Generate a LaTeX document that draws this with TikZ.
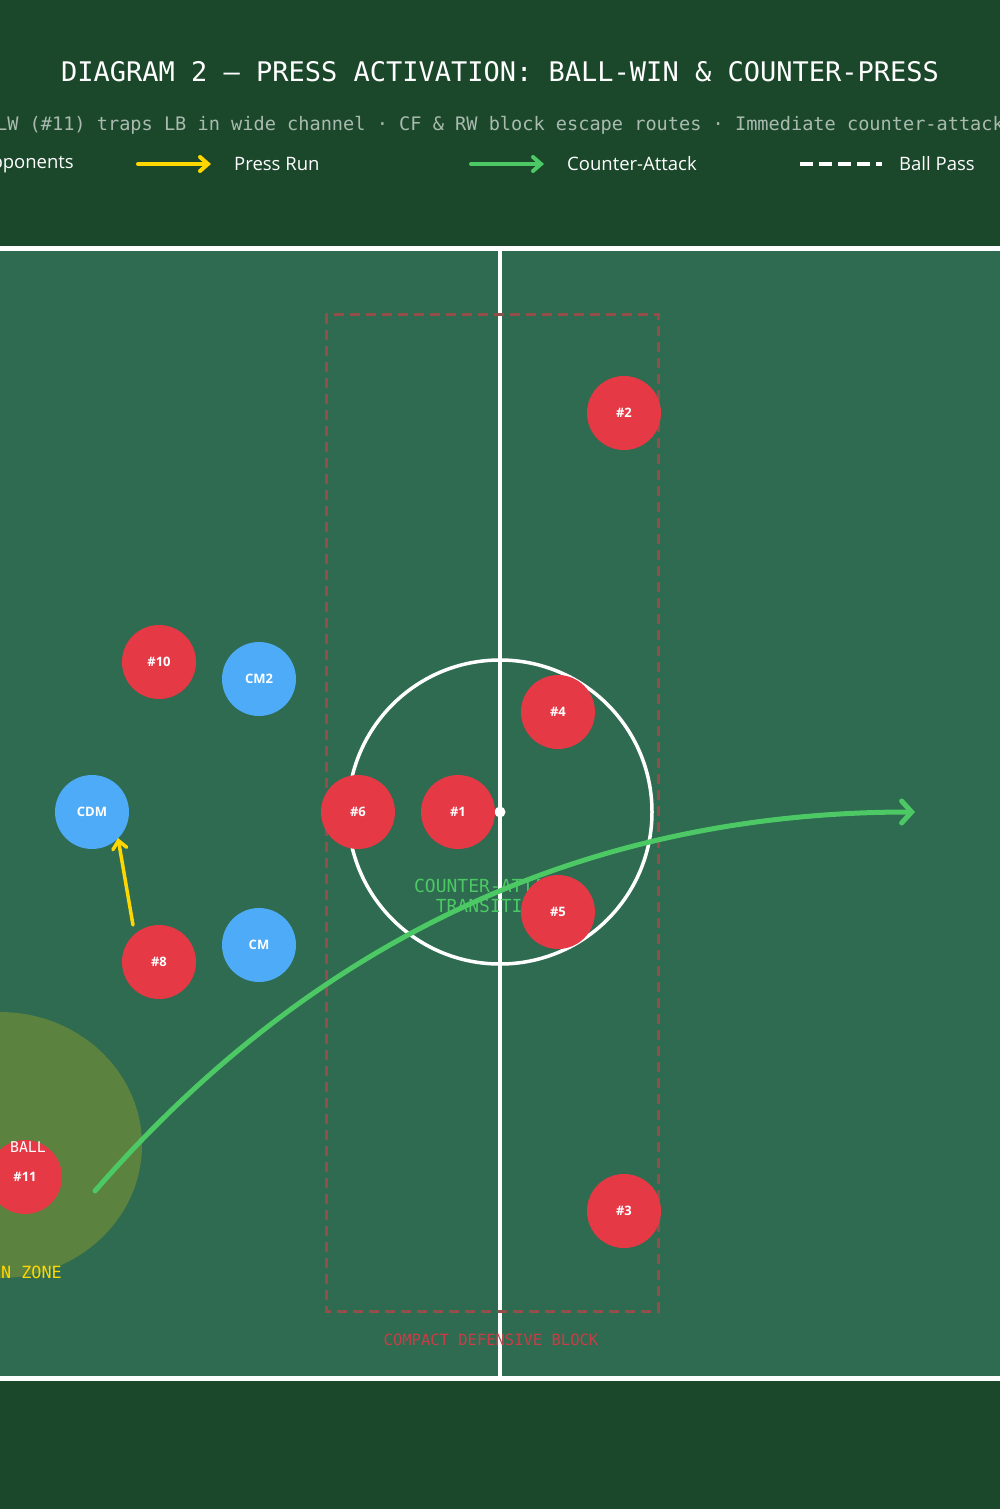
\documentclass[tikz,border=0pt]{standalone}
\usepackage{fontspec}
\setmainfont{Open Sans}
\newfontfamily\mono{DejaVu Sans Mono}
\usetikzlibrary{arrows.meta}
\definecolor{bgdark}{HTML}{1B472B}
\definecolor{field}{HTML}{2E6B50}
\definecolor{red}{HTML}{E63946}
\definecolor{blue}{HTML}{4DABF7}
\definecolor{ygold}{HTML}{FFD700}
\definecolor{cgreen}{HTML}{4CC964}
\definecolor{blockline}{HTML}{914F4A}
\definecolor{blocktext}{HTML}{C93D46}
\definecolor{zone}{HTML}{5B823E}
\definecolor{subgray}{HTML}{A9BBAF}
\tikzset{
  us/.style={circle, fill=red, minimum size=74pt, inner sep=0pt, text=white, font=\fontsize{13}{15}\selectfont\bfseries},
  them/.style={circle, fill=blue, minimum size=74pt, inner sep=0pt, text=white, font=\fontsize{13}{15}\selectfont\bfseries},
  pitchline/.style={draw=white, line width=3.5pt},
  pressrun/.style={draw=ygold, line width=3.5pt, line cap=round, -{Straight Barb[length=8pt,width=14pt,line cap=round]}},
  counter/.style={draw=cgreen, line width=5pt, line cap=round, -{Straight Barb[length=10pt,width=22pt,line cap=round]}},
  legtext/.style={anchor=west, text=white, font=\fontsize{18.5}{22}\selectfont, inner sep=0pt},
}
\begin{document}
\begin{tikzpicture}[x=1pt,y=-1pt]
\useasboundingbox (0,0) rectangle (1000,1509);
\clip (0,0) rectangle (1000,1509);
\fill[bgdark] (0,0) rectangle (1000,1509);
% header
\node[text=white, font=\fontsize{27}{30}\mono] (title) at (500,72) {DIAGRAM 2 — PRESS ACTIVATION: BALL-WIN \& COUNTER-PRESS};
\node[text=subgray, font=\fontsize{18.6}{22}\mono] (subtitle) at (500,125) {LW (\#11) traps LB in wide channel · CF \& RW block escape routes · Immediate counter-attack};
% legend
\node[anchor=east, text=white, font=\fontsize{18.5}{22}\selectfont, inner sep=0pt] (lopp) at (74,164) {Opponents};
\coordinate (lp1) at (138,164); \coordinate (lp2) at (211,164);
\draw[pressrun, line width=4pt] (lp1) -- (lp2);
\node[legtext] (lpress) at (234,164) {Press Run};
\coordinate (lc1) at (471,164); \coordinate (lc2) at (544,164);
\draw[draw=cgreen, line width=4pt, line cap=round, -{Straight Barb[length=8pt,width=14pt,line cap=round]}] (lc1) -- (lc2);
\node[legtext] (lcount) at (567,164) {Counter-Attack};
\coordinate (lb1) at (800,164); \coordinate (lb2) at (882,164);
\draw[white, line width=3.5pt, dash pattern=on 13pt off 6pt] (lb1) -- (lb2);
\node[legtext] (lball) at (899,164) {Ball Pass};
% field
\fill[field] (-10,248) rectangle (1010,1378);
\draw[pitchline, line width=5pt] (-10,248) -- (1010,248);
\draw[pitchline, line width=5pt] (-10,1378) -- (1010,1378);
\draw[pitchline] (500,248) -- (500,1378);
\draw[pitchline] (500,812) circle (152);
\fill[white] (500,812) circle (5.5);
% compact block
\draw[blockline, line width=3pt, dash pattern=on 10pt off 6pt] (326,314) rectangle (658,1311);
\node[text=blocktext, font=\fontsize{15.5}{18}\mono] (blocklbl) at (491,1340) {COMPACT DEFENSIVE BLOCK};
% ball-win zone
\fill[zone] (0,1145) ellipse (142 and 133);
\node[anchor=east, text=ygold, font=\fontsize{16.8}{20}\mono, inner sep=0pt] (zonelbl) at (62,1272) {BALL-WIN ZONE};
% transition label
\node[text=cgreen, font=\fontsize{18}{19.5}\mono, align=center, inner sep=0pt] (translbl) at (490,896) {COUNTER-ATTACK\\TRANSITION};
% players
\node[us] (p2) at (624,413) {\#2};
\node[us] (p10) at (159,662) {\#10};
\node[them] (cm2) at (259,679) {CM2};
\node[us] (p4) at (558,712) {\#4};
\node[them] (cdm) at (92,812) {CDM};
\node[us] (p6) at (358,812) {\#6};
\node[us] (p1) at (458,812) {\#1};
\node[us] (p5) at (558,912) {\#5};
\node[them] (cm) at (259,945) {CM};
\node[us] (p8) at (159,962) {\#8};
\node[us] (p11) at (25,1177) {\#11};
\node[us] (p3) at (624,1211) {\#3};
\node[text=white, font=\fontsize{14.8}{17}\mono, inner sep=0pt] (balllbl) at (28,1147) {BALL};
% arrows
\coordinate (ca1) at (95,1191);
\coordinate (ca2) at (915,812);
\draw[counter] (ca1) .. controls (315,938) and (588,812) .. (ca2);
\coordinate (pr1) at (133,925);
\coordinate (pr2) at (118,838);
\draw[pressrun] (pr1) -- (pr2);
\end{tikzpicture}
\end{document}
